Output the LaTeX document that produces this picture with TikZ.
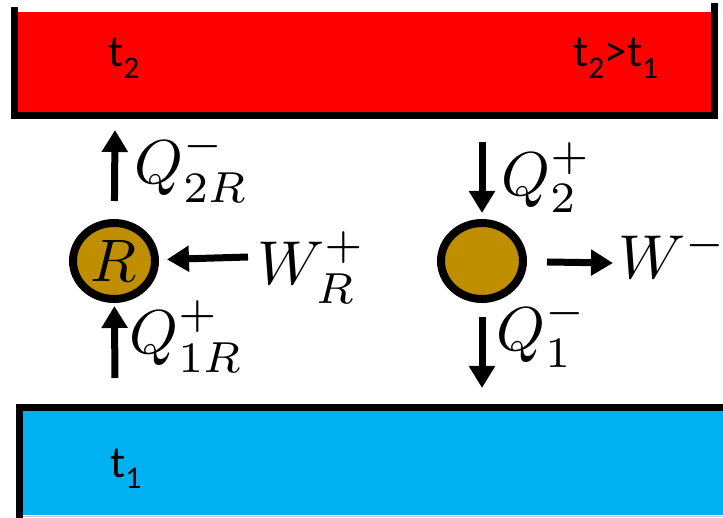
\documentclass[tikz,border=0pt]{standalone}
\usepackage{fontspec}
\newfontfamily\calib{Carlito}
\usetikzlibrary{arrows.meta, positioning, shapes.geometric}
\definecolor{hotres}{HTML}{FF0000}
\definecolor{coldres}{HTML}{00B0F0}
\definecolor{engfill}{HTML}{BF8F00}
\tikzset{
  machine/.style={ellipse, draw, line width=8pt, fill=engfill, minimum width=82pt, minimum height=76pt, inner sep=0pt},
  flux/.style={-{Triangle[length=22pt, width=25pt]}, line width=7pt},
  qlabel/.style={scale=6.2, inner sep=0pt},
  tlabel/.style={font=\calib\fontsize{45}{54}\selectfont, inner sep=0pt},
  wall/.style={line width=7pt},
}

\begin{document}
\begin{tikzpicture}[x=1pt, y=-1pt]
  \useasboundingbox (0,0) rectangle (723,518);

  % reservoirs
  \fill[hotres] (14,12) rectangle (714,113);
  \draw[wall] (14,7) -- (14,116) -- (714,116) -- (714,3);
  \fill[coldres] (19,408) rectangle (723,515);
  \draw[gray!40, line width=1pt] (19,516) -- (723,516);
  \draw[wall] (19,518) -- (19,408) -- (723,408);

  \node[tlabel, anchor=base west] (thot) at (108,67) {t\textsubscript{2}};
  \node[tlabel, anchor=base west] (tcmp) at (573,67) {t\textsubscript{2}>t\textsubscript{1}};
  \node[tlabel, anchor=base west] (tcold) at (110,477) {t\textsubscript{1}};

  % refrigerator
  \node[machine] (fridge) at (114,261) {\scalebox{6}{$R$}};
  \coordinate (hotL) at (115,130);
  \coordinate (coldL) at (115,378);
  \coordinate (workIn) at (248,257);
  \draw[flux, shorten <=18pt] (fridge) -- (hotL);
  \draw[flux, shorten >=3pt] (coldL) -- (fridge);
  \draw[flux, shorten >=8pt] (workIn) -- (fridge);
  \node[qlabel, anchor=base west] (qtwoR) at (133,184) {$Q^-_{2R}$};
  \node[qlabel, anchor=base west] (qoneR) at (128,354) {$Q^+_{1R}$};
  \node[qlabel, anchor=base west] (workR) at (256,285) {$W^+_R$};

  % engine
  \node[machine] (engine) at (482,261) {};
  \coordinate (hotR) at (482,142);
  \coordinate (coldR) at (482,388);
  \coordinate (workOut) at (613,263);
  \draw[flux, shorten >=6pt] (hotR) -- (engine);
  \draw[flux, shorten <=14pt] (engine) -- (coldR);
  \draw[flux, shorten <=20pt] (engine) -- (workOut);
  \node[qlabel, anchor=base west] (qtwo) at (500,196) {$Q^+_2$};
  \node[qlabel, anchor=base west] (qone) at (495,351) {$Q^-_1$};
  \node[qlabel, anchor=base west] (work) at (617,279) {$W^-$};
\end{tikzpicture}
\end{document}
